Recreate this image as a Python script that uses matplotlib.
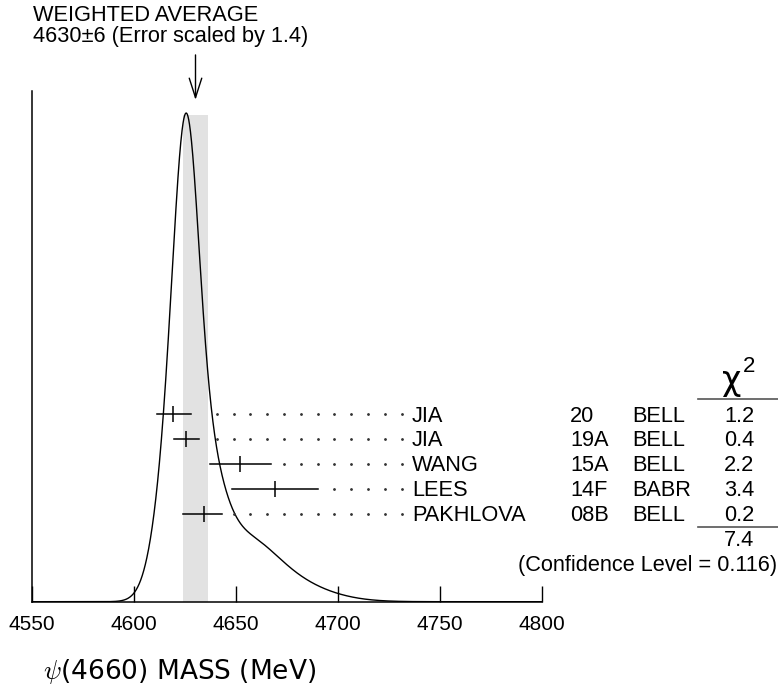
import numpy as np
import matplotlib
matplotlib.use('Agg')
from matplotlib import pyplot as plt
from matplotlib.transforms import blended_transform_factory
from matplotlib.lines import Line2D

# measurements (MeV)
names = ['JIA', 'JIA', 'WANG', 'LEES', 'PAKHLOVA']
years = ['20', '19A', '15A', '14F', '08B']
experiments = ['BELL', 'BELL', 'BELL', 'BABR', 'BELL']
mass = [4619, 4625.5, 4652, 4669, 4634]
err_lo = [8, 6, 15, 21, 10]
err_hi = [9, 6, 15, 21, 9]
chi2 = ['1.2', '0.4', '2.2', '3.4', '0.2']
chi2_total = '7.4'
conf_level = '0.116'

avg = 4630
avg_err = 6
err_scale = 1.4
xticks = [4550, 4600, 4650, 4700, 4750, 4800]

plt.rcParams['font.family'] = ['Liberation Sans', 'DejaVu Sans']
plt.rcParams['mathtext.fontset'] = 'cm'

W, H = 778, 687
fig = plt.figure(figsize=(W / 100, H / 100), dpi=100)
ax = fig.add_axes([32.3 / W, 85.3 / H, 510 / W, 511 / H])


def px_x(p):
    return p / W


def px_y(p):
    return 1 - p / H


# ideogram: each measurement a gaussian with area ~ 1/sigma
xs = np.linspace(4550, 4800, 2000)
ideo = np.zeros_like(xs)
for m, lo, hi in zip(mass, err_lo, err_hi):
    sig = np.where(xs < m, lo, hi)
    ideo += np.exp(-0.5 * ((xs - m) / sig) ** 2) / (0.5 * (lo + hi)) ** 2

ymax = ideo.max() / 0.9563
ax.set_ylim(0, ymax)
ax.set_xlim(4550, 4800)
ax.fill_between([avg - avg_err, avg + avg_err], 0, 0.952 * ymax,
                color='#e2e2e2', lw=0, zorder=0)
ax.plot(xs, ideo, color='k', lw=1)

tr = blended_transform_factory(ax.transData, ax.transAxes)
tt = blended_transform_factory(fig.transFigure, ax.transAxes)

fs = 15.7
dot_grid = np.arange(4640.4, 4732, 8.245)
base_off = 7.5 / 511
for i in range(len(mass)):
    y = 0.3673 - i * 0.0489
    m = mass[i]
    ax.plot([m - err_lo[i], m + err_hi[i]], [y, y], color='k', lw=1.1,
            transform=tr, clip_on=False)
    ax.plot([m], [y], marker='|', ms=12, mew=1.1, color='k',
            transform=tr, clip_on=False)
    d = dot_grid[dot_grid > m + err_hi[i] + 4]
    ax.plot(d, [y] * len(d), ls='none', marker='o', ms=1.0, color='#333333',
            transform=tr, clip_on=False)
    ax.text(px_x(412), y - base_off, names[i], fontsize=fs, transform=tt, va='baseline')
    ax.text(px_x(570), y - base_off, years[i], fontsize=fs, transform=tt, va='baseline')
    ax.text(px_x(632), y - base_off, experiments[i], fontsize=fs, transform=tt, va='baseline')
    ax.text(px_x(754), y - base_off, chi2[i], fontsize=fs, transform=tt,
            va='baseline', ha='right')

# chi2 column header, rules and total
fig.text(px_x(721.7), px_y(389.8), 'χ', fontsize=24, family='DejaVu Sans', va='baseline')
fig.text(px_x(743), px_y(372), '2', fontsize=16, va='baseline')
for yy in [399, 526.5]:
    fig.add_artist(Line2D([px_x(698), 1], [px_y(yy)] * 2, color='#555555', lw=1.2))
fig.text(px_x(754), px_y(546.5), chi2_total, fontsize=fs, ha='right', va='baseline')
fig.text(px_x(777), px_y(571), f'(Confidence Level = {conf_level})', fontsize=fs,
         ha='right', va='baseline')

# weighted average label and arrow
fig.text(px_x(33), px_y(21), 'WEIGHTED AVERAGE', fontsize=fs, va='baseline')
fig.text(px_x(33), px_y(42), f'{avg}±{avg_err} (Error scaled by {err_scale})',
         fontsize=fs, va='baseline')
ax.annotate('', xy=(avg, 0.982), xycoords=tr, xytext=(avg, 1.07), textcoords=tr,
            arrowprops=dict(arrowstyle='->,head_length=1.4,head_width=0.45',
                            lw=1, color='k', shrinkA=0, shrinkB=0, mutation_scale=10))

ax.spines['top'].set_visible(False)
ax.spines['right'].set_visible(False)
ax.spines['left'].set_linewidth(1.1)
ax.spines['bottom'].set_linewidth(1.1)
ax.set_xticks(xticks)
ax.tick_params(axis='x', direction='in', length=11.5, width=1, labelsize=15, pad=9.5)
ax.tick_params(axis='y', left=False, labelleft=False)

fig.text(px_x(42.7), px_y(679), r'$\psi$(4660) MASS (MeV)', fontsize=19,
         family='DejaVu Sans', va='baseline')

fig.savefig('out.png', dpi=100)
